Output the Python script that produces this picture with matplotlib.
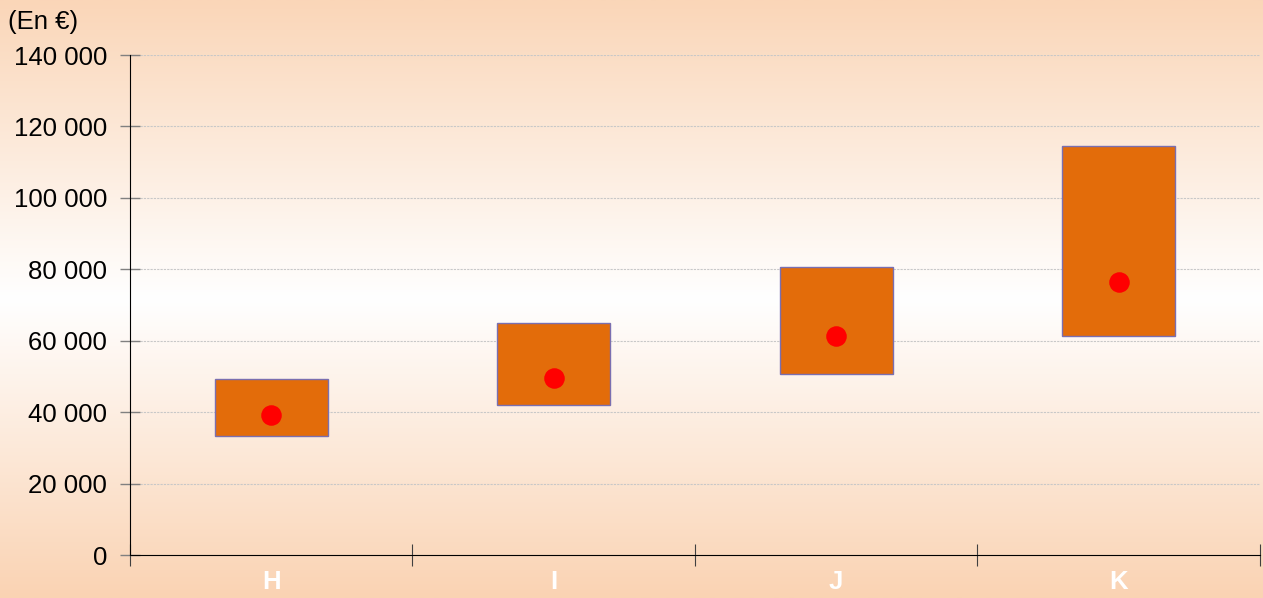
import numpy as np
import matplotlib.pyplot as plt
from matplotlib.ticker import FuncFormatter
from matplotlib.colors import LinearSegmentedColormap

plt.rcParams['font.family'] = ['Liberation Sans', 'DejaVu Sans']

categories = ["H", "I", "J", "K"]
low = [33300, 42000, 50700, 61300]
high = [49300, 65000, 80600, 114500]
mid = [39200, 49600, 61300, 76400]

fig = plt.figure(figsize=(12.63, 5.98), dpi=100)

# fond en dégradé pêche / blanc / pêche
bg = fig.add_axes([0, 0, 1, 1], zorder=-10)
cmap = LinearSegmentedColormap.from_list(
    "peche", [(0.0, "#fad3b3"), (0.5, "#ffffff"), (1.0, "#fad6b8")])
grad = np.linspace(0, 1, 256).reshape(-1, 1)
bg.imshow(grad, aspect="auto", cmap=cmap, extent=[0, 1, 0, 1], origin="lower")
bg.axis("off")

ax = fig.add_axes([0.1029, 0.0719, 0.8947, 0.8361])
ax.patch.set_alpha(0)

x = np.arange(len(categories))
heights = [h - l for h, l in zip(high, low)]
ax.bar(x, heights, bottom=low, width=0.4, color="#e36c0a",
       edgecolor="#7a6fb0", linewidth=1, zorder=3)
ax.scatter(x, mid, s=190, color="#ff0000", zorder=4)

ax.set_ylim(0, 140000)
ax.set_xlim(-0.5, 3.5)
ax.set_yticks(range(0, 140001, 20000))
ax.yaxis.set_major_formatter(FuncFormatter(lambda v, p: f"{int(v):,}".replace(",", " ")))
ax.tick_params(axis="y", labelsize=18.5, direction="inout", length=15, width=1,
               color="#808080", pad=9)
ax.grid(axis="y", color="#c8c8c8", linestyle=(0, (2, 1)), linewidth=0.8, zorder=0)

ax.set_xticks(np.arange(-0.5, 3.6, 1))
ax.set_xticklabels([])
ax.set_xticks(x, minor=True)
ax.set_xticklabels(categories, minor=True, color="white", fontweight="bold", fontsize=18.5)
ax.tick_params(axis="x", which="major", direction="inout", length=16, color="#404040")
ax.tick_params(axis="x", which="minor", length=0, pad=11)

for s in ["top", "right"]:
    ax.spines[s].set_visible(False)
ax.spines["left"].set_color("black")
ax.spines["bottom"].set_color("black")

fig.text(0.006, 0.963, "(En €)", fontsize=18.5, ha="left", va="center")

fig.savefig("out.png", dpi=100)
